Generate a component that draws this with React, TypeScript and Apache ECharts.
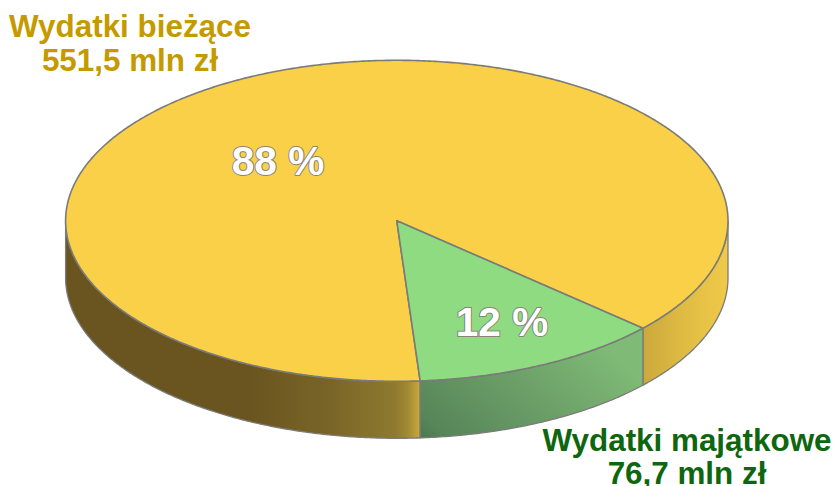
import React, { useEffect, useRef } from "react";
import * as echarts from "echarts";

const categories = ["Wydatki bieżące", "Wydatki majątkowe"];
const values = [551.5, 76.7];
const valueLabels = ["551,5 mln zł", "76,7 mln zł"];
const percentLabels = ["88 %", "12 %"];
const topColors = ["#f9d048", "#8edb82"];
const nameColors = ["#c49a00", "#0e660e"];

const CX = 396.8, CY = 220.8, RX = 331.2, RY = 160.5, DEPTH = 57;
const GREEN_START = 42; // parametric angle of first edge of the small slice, degrees
const EDGE = "#7b7b78";
const total = values.reduce((a, b) => a + b, 0);
const sweep = values.map((v) => (v / total) * 360);
// slice 1 (green) begins at GREEN_START, slice 0 (yellow) follows it
const starts = [GREEN_START + sweep[1], GREEN_START];

const pt = (deg: number, dy = 0): number[] => {
  const t = (deg * Math.PI) / 180;
  return [CX + RX * Math.cos(t), CY + RY * Math.sin(t) + dy];
};
const arc = (a: number, b: number, dy = 0): number[][] => {
  const out: number[][] = [];
  const n = Math.max(2, Math.ceil(Math.abs(b - a) * 2));
  for (let i = 0; i <= n; i++) out.push(pt(a + ((b - a) * i) / n, dy));
  return out;
};
const grad = (x: number, y: number, x2: number, y2: number, stops: [number, string][]) =>
  new echarts.graphic.LinearGradient(x, y, x2, y2, stops.map(([offset, color]) => ({ offset, color })));

const sideFill = (slice: number, from: number) => {
  if (slice === 1)
    return grad(0, 1, 1, 0.45, [[0, "#4b784e"], [0.1, "#578659"], [0.55, "#6c9f68"], [1, "#7fbb76"]]);
  if (from < 1)
    return grad(1, 0, 0, 0, [[0, "#f0ca48"], [0.6, "#dcb942"], [1, "#cba83b"]]);
  return grad(0, 0, 1, 0, [[0, "#6a5520"], [0.52, "#6a5520"], [0.75, "#7a6528"], [0.93, "#8f7a30"], [0.965, "#a08a33"], [1, "#cdaa3a"]]);
};

// Keep only parts of [a,b] where the outer wall faces the viewer (sin > 0).
const visibleRanges = (a: number, b: number): number[][] => {
  const r: number[][] = [];
  for (let k = -1; k < 3; k++) {
    const lo = Math.max(a, k * 360), hi = Math.min(b, k * 360 + 180);
    if (hi > lo) r.push([lo, hi]);
  }
  return r;
};

const renderSide = (params: any, api: any) => {
  const i = params.dataIndex;
  const v = api.value(0);
  const a = starts[i], b = a + (v / total) * 360;
  const children = visibleRanges(a, b).map(([lo, hi]) => ({
    type: "polygon",
    shape: { points: [...arc(lo, hi), ...arc(hi, lo, DEPTH)] },
    style: { fill: sideFill(i, ((lo % 360) + 360) % 360), stroke: EDGE, lineWidth: 1.3, lineJoin: "round" },
  }));
  return { type: "group", children };
};

const renderTop = (params: any, api: any) => {
  const i = params.dataIndex;
  const v = api.value(0);
  const a = starts[i], b = a + (v / total) * 360;
  return {
    type: "polygon",
    shape: { points: [[CX, CY], ...arc(a, b)] },
    style: { fill: topColors[i], stroke: EDGE, lineWidth: 1.6, lineJoin: "round" },
  };
};

const pctPos = [[278, 161], [502, 322]];
const namePos = [[130, 43.5], [687, 456.5]];
const nameLineHeights = [34, 33];

export default function App() {
  const ref = useRef<HTMLDivElement>(null);
  useEffect(() => {
    if (!ref.current) return;
    const chart = echarts.init(ref.current, null, { renderer: "svg" });
    const font = '"Liberation Sans", Arial, sans-serif';
    const data = values.map((v, i) => ({ name: categories[i], value: [v] }));
    chart.setOption({
      animation: false,
      backgroundColor: "#ffffff",
      xAxis: { show: false, type: "value" },
      yAxis: { show: false, type: "value" },
      grid: { left: 0, right: 0, top: 0, bottom: 0 },
      series: [
        { type: "custom", coordinateSystem: "none", renderItem: renderSide, data, silent: true, z: 1 },
        { type: "custom", coordinateSystem: "none", renderItem: renderTop, data, silent: true, z: 2 },
      ],
      graphic: [
        ...categories.map((c, i) => ({
          type: "text",
          x: namePos[i][0],
          y: namePos[i][1],
          z: 10,
          style: {
            text: `${c}\n${valueLabels[i]}`,
            fill: nameColors[i],
            font: `bold 31.4px ${font}`,
            lineHeight: nameLineHeights[i],
            align: "center",
            verticalAlign: "middle",
          },
        })),
        ...percentLabels.map((p, i) => ({
          type: "text",
          x: pctPos[i][0],
          y: pctPos[i][1],
          z: 10,
          style: {
            text: p,
            fill: "#ffffff",
            stroke: "#8a8478",
            lineWidth: 2,
            font: `bold 40.5px ${font}`,
            align: "center",
            verticalAlign: "middle",
          },
        })),
      ],
    });
    return () => chart.dispose();
  }, []);
  return <div ref={ref} style={{ position: "fixed", left: 0, top: 0, width: 833, height: 486 }} />;
}
